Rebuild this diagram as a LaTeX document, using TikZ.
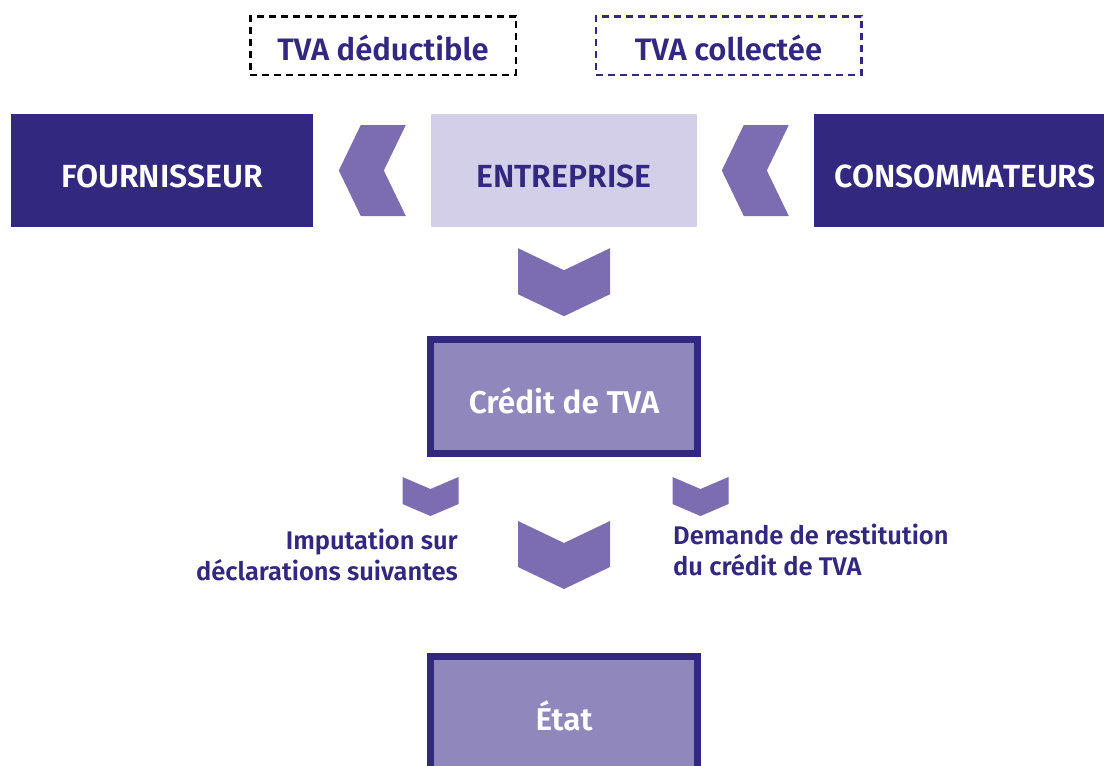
\documentclass[tikz,border=0pt]{standalone}
\usepackage{fontspec}
\setmainfont{Fira Sans}[BoldFont={Fira Sans SemiBold}]
\usetikzlibrary{calc}
\definecolor{indigo}{HTML}{32287F}
\definecolor{chev}{HTML}{7C6CB0}
\definecolor{lilac}{HTML}{D3CFE9}
\definecolor{credit}{HTML}{9087BC}
\tikzstyle{party}=[rectangle,fill=indigo,text=white,minimum height=113pt,inner sep=0pt,text height=33pt,text depth=0pt,font=\fontsize{32}{38}\selectfont\bfseries]
\tikzstyle{firm}=[party,fill=lilac,text=indigo]
\tikzstyle{tax}=[rectangle,draw=black,line width=2.5pt,dash pattern=on 7pt off 5pt,minimum width=265.5pt,minimum height=58.5pt,inner sep=0pt,text height=30pt,text depth=0pt,text=indigo,font=\fontsize{31}{36}\selectfont\bfseries]
\tikzstyle{credbox}=[rectangle,fill=credit,draw=indigo,line width=7pt,minimum width=267pt,minimum height=114pt,inner sep=0pt,text height=33pt,text depth=0pt,text=white,font=\fontsize{31.5}{37}\selectfont\bfseries]
\tikzstyle{note}=[text=indigo,inner sep=0pt,font=\fontsize{25.5}{31}\selectfont\bfseries]
\tikzstyle{chevron}=[fill=chev]

\begin{document}
\begin{tikzpicture}[x=1pt,y=-1pt]
    \useasboundingbox (0,0) rectangle (1104,766);
    % the two kinds of VAT
    \node[tax] (ded) at (383,45.5) {TVA déductible};
    \node[tax,draw=indigo] (col) at (728.5,45.5) {TVA collectée};

    % the three parties
    \node[party,minimum width=302pt] (four) at (162,170.5) {FOURNISSEUR};
    \node[firm,minimum width=266pt] (ent) at (564,170.5) {ENTREPRISE};
    \node[party,minimum width=302pt] (cons) at (965,170.5) {CONSOMMATEURS};

    % credit and state
    \node[credbox] (cred) at (564,396.5) {Crédit de TVA};
    \node[credbox] (etat) at (564,713.5) {État};

    \node[note,anchor=east,align=right] (imp) at (458,555) {Imputation sur\\déclarations suivantes};
    \node[note,anchor=west,align=left] (dem) at (673,550) {Demande de restitution\\du crédit de TVA};

    % chevrons pointing left
    \foreach \tgt in {ent,cons}
        \fill[chevron] ($(\tgt.west)+(-25,-45.5)$) -- ++(-22,45.5) -- ++(22,45.5) -- ++(-45,0) -- ++(-22,-45.5) -- ++(22,-45.5) -- cycle;

    % chevrons pointing down
    \coordinate (d1) at ($(ent.south)+(0,21)$);
    \coordinate (d2) at ($(cred.south)+(0,64)$);
    \coordinate (d3) at ($(cred.south west)+(3.5,20)$);
    \coordinate (d4) at ($(cred.south east)+(-0.5,20)$);
    \foreach \c/\w/\d/\h in {d1/92/22/46, d2/92/22/46, d3/56/12/27, d4/56/12/27}
        \fill[chevron] (\c) ++({-\w/2},0) -- ++({\w/2},\d) -- ++({\w/2},-\d) -- ++(0,\h) -- ++({-\w/2},\d) -- ++({-\w/2},-\d) -- cycle;
\end{tikzpicture}
\end{document}
